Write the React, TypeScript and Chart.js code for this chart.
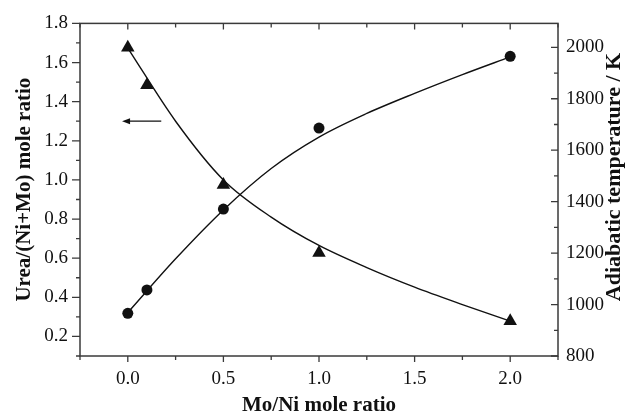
import React, { useEffect, useRef } from "react";
import { Chart, registerables } from "chart.js";

Chart.register(...registerables);

// ---- data ----
const moNiRatio = [0, 0.1, 0.5, 1.0, 2.0];
const ureaRatio = [1.676, 1.485, 0.975, 0.627, 0.279];
const adiabaticTemp = [966, 1057, 1371, 1686, 1965];

const fitMoNi = [0, 0.25, 0.5, 0.75, 1.0, 1.25, 1.5, 1.75, 2.0];
const ureaFit = [1.674, 1.3, 1.0, 0.81, 0.665, 0.552, 0.452, 0.363, 0.278];
const tempFit = [969, 1178, 1368, 1529, 1651, 1743, 1821, 1894, 1963];

const xTicks = [-0.25, 0, 0.25, 0.5, 0.75, 1.0, 1.25, 1.5, 1.75, 2.0, 2.25];
const xLabels = [0, 0.5, 1.0, 1.5, 2.0];
const leftTicks = [0.1, 0.2, 0.3, 0.4, 0.5, 0.6, 0.7, 0.8, 0.9, 1.0, 1.1, 1.2, 1.3, 1.4, 1.5, 1.6, 1.7, 1.8];
const leftLabels = [0.2, 0.4, 0.6, 0.8, 1.0, 1.2, 1.4, 1.6, 1.8];
const rightTicks = [800, 900, 1000, 1100, 1200, 1300, 1400, 1500, 1600, 1700, 1800, 1900, 2000];
const rightLabels = [800, 1000, 1200, 1400, 1600, 1800, 2000];

const arrowX = [0.175, -0.03];
const arrowY = 1.3;

const xTitle = "Mo/Ni mole ratio";
const leftTitle = "Urea/(Ni+Mo) mole ratio";
const rightTitle = "Adiabatic temperature / K";

const INK = "#111";
const AXIS = "#3a3a3a";
const SERIF = "'Liberation Serif', 'DejaVu Serif', serif";

const near = (a: number, b: number) => Math.abs(a - b) < 1e-9;

const decorPlugin = {
  id: "decor",
  afterDraw(chart: any) {
    const { ctx, chartArea: a, scales } = chart;
    const x = scales.x, y = scales.y, y2 = scales.y2;
    ctx.save();
    ctx.strokeStyle = AXIS;
    ctx.lineWidth = 1.5;
    ctx.strokeRect(a.left, a.top, a.right - a.left, a.bottom - a.top);
    ctx.lineWidth = 1.3;
    ctx.beginPath();
    xTicks.forEach((v) => {
      const px = x.getPixelForValue(v);
      const major = xLabels.some((l) => near(l, v));
      ctx.moveTo(px, a.bottom);
      ctx.lineTo(px, a.bottom + (major ? 6 : 4));
      ctx.moveTo(px, a.top);
      ctx.lineTo(px, a.top + (major ? 6 : 4));
    });
    leftTicks.forEach((v) => {
      const py = y.getPixelForValue(v);
      const major = leftLabels.some((l) => near(l, v));
      ctx.moveTo(a.left, py);
      ctx.lineTo(a.left - (major ? 8 : 4), py);
    });
    rightTicks.forEach((v) => {
      const py = y2.getPixelForValue(v);
      const major = rightLabels.some((l) => near(l, v));
      ctx.moveTo(a.right, py);
      ctx.lineTo(a.right - (major ? 7 : 4), py);
    });
    ctx.stroke();

    // arrow pointing to the left axis
    const ax0 = x.getPixelForValue(arrowX[0]);
    const ax1 = x.getPixelForValue(arrowX[1]);
    const ay = y.getPixelForValue(arrowY);
    ctx.strokeStyle = INK;
    ctx.lineWidth = 1.3;
    ctx.beginPath();
    ctx.moveTo(ax0, ay);
    ctx.lineTo(ax1 + 5, ay);
    ctx.stroke();
    ctx.fillStyle = INK;
    ctx.beginPath();
    ctx.moveTo(ax1, ay);
    ctx.lineTo(ax1 + 8, ay - 3);
    ctx.lineTo(ax1 + 8, ay + 3);
    ctx.closePath();
    ctx.fill();

    // right axis title, reading bottom to top
    ctx.fillStyle = INK;
    ctx.font = `bold 22px ${SERIF}`;
    ctx.textAlign = "center";
    ctx.textBaseline = "middle";
    ctx.translate(614, 177);
    ctx.rotate(-Math.PI / 2);
    ctx.fillText(rightTitle, 0, 0);
    ctx.restore();
  },
};

export default function App() {
  const ref = useRef<HTMLCanvasElement | null>(null);
  useEffect(() => {
    if (!ref.current) return;
    const chart = new Chart(ref.current, {
      type: "scatter",
      data: {
        datasets: [
          {
            label: "Urea fit",
            data: fitMoNi.map((v, i) => ({ x: v, y: ureaFit[i] })),
            yAxisID: "y",
            showLine: true,
            borderColor: INK,
            borderWidth: 1.4,
            pointRadius: 0,
            cubicInterpolationMode: "monotone",
          },
          {
            label: "Temperature fit",
            data: fitMoNi.map((v, i) => ({ x: v, y: tempFit[i] })),
            yAxisID: "y2",
            showLine: true,
            borderColor: INK,
            borderWidth: 1.4,
            pointRadius: 0,
            cubicInterpolationMode: "monotone",
          },
          {
            label: "Urea/(Ni+Mo)",
            data: moNiRatio.map((v, i) => ({ x: v, y: ureaRatio[i] })),
            yAxisID: "y",
            pointStyle: "triangle",
            pointRadius: 7.8,
            backgroundColor: INK,
            borderColor: INK,
            borderWidth: 0,
          },
          {
            label: "Adiabatic temperature",
            data: moNiRatio.map((v, i) => ({ x: v, y: adiabaticTemp[i] })),
            yAxisID: "y2",
            pointStyle: "circle",
            pointRadius: 5.5,
            backgroundColor: INK,
            borderColor: INK,
            borderWidth: 0,
          },
        ],
      },
      options: {
        animation: false,
        responsive: false,
        maintainAspectRatio: false,
        layout: { padding: { top: 19, left: 0, right: 0, bottom: 0 } },
        plugins: { legend: { display: false }, tooltip: { enabled: false } },
        scales: {
          x: {
            type: "linear",
            position: "bottom",
            min: -0.25,
            max: 2.25,
            afterBuildTicks: (s: any) => {
              s.ticks = xLabels.map((v) => ({ value: v }));
            },
            afterFit: (s: any) => {
              s.height = 62;
            },
            grid: { display: false, drawTicks: false },
            border: { display: false },
            ticks: {
              padding: 12,
              color: INK,
              font: { family: SERIF, size: 19 },
              maxRotation: 0,
              callback: (v: any) => Number(v).toFixed(1),
            },
            title: {
              display: true,
              text: xTitle,
              color: INK,
              font: { family: SERIF, size: 21, weight: "bold" },
              padding: { top: 0, bottom: 0 },
            },
          },
          y: {
            type: "linear",
            position: "left",
            min: 0.1,
            max: 1.8,
            afterBuildTicks: (s: any) => {
              s.ticks = leftLabels.map((v) => ({ value: v }));
            },
            afterFit: (s: any) => {
              s.width = 80;
            },
            grid: { display: false, drawTicks: false },
            border: { display: false },
            ticks: {
              padding: 12,
              color: INK,
              font: { family: SERIF, size: 19 },
              callback: (v: any) => Number(v).toFixed(1),
            },
            title: {
              display: true,
              text: leftTitle,
              color: INK,
              font: { family: SERIF, size: 21, weight: "bold" },
              padding: { top: 12, bottom: 0 },
            },
          },
          y2: {
            type: "linear",
            position: "right",
            min: 800,
            max: 2093,
            afterBuildTicks: (s: any) => {
              s.ticks = rightLabels.map((v) => ({ value: v }));
            },
            afterFit: (s: any) => {
              s.width = 72;
            },
            grid: { display: false, drawTicks: false },
            border: { display: false },
            ticks: {
              padding: 8,
              color: INK,
              font: { family: SERIF, size: 19 },
              callback: (v: any) => String(v),
            },
          },
        },
      },
      plugins: [decorPlugin],
    });
    return () => chart.destroy();
  }, []);
  return (
    <div style={{ position: "fixed", left: 0, top: 0, width: 630, height: 418, background: "#fff" }}>
      <canvas ref={ref} width={630} height={418} style={{ display: "block" }} />
    </div>
  );
}
